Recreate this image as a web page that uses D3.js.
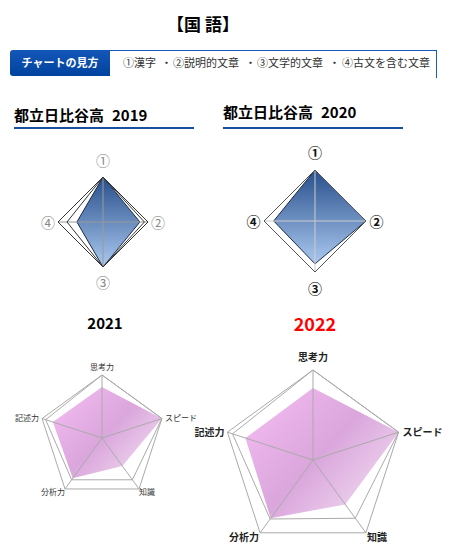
<!DOCTYPE html>
<html>
<head>
<meta charset="utf-8">
<script src="https://cdn.jsdelivr.net/npm/d3@7"></script>
<style>
  body { margin: 0; background: #fff; }
  text { font-family: "Noto Sans CJK JP", "Noto Sans", sans-serif; }
</style>
</head>
<body>
<div id="chart"></div>
<script>
const W = 453, H = 553;

// Data
const legendItems = ["①漢字", "・", "②説明的文章", "・", "③文学的文章", "・", "④古文を含む文章"];
const legendX = [123, 161, 173, 245, 257, 329, 342];
const diamondAxes = ["①", "②", "③", "④"];
const values2019 = [1.0, 0.82, 1.0, 0.58];
const ref2019 = [1.0, 0.92, 1.0, 0.8];
const values2020 = [1.0, 1.0, 0.84, 0.81];
const ref2020 = [1.0, 1.0, 1.0, 1.0];
const pentaAxes = ["思考力", "スピード", "知識", "分析力", "記述力"];
const values2021 = [0.81, 1.0, 0.55, 0.79, 0.82];
const ref2021 = [1.0, 1.0, 0.82, 0.82, 0.94];
const values2022 = [0.80, 1.0, 0.61, 0.80, 0.79];
const ref2022 = [1.0, 1.0, 0.80, 0.81, 0.94];

const svg = d3.select("#chart").append("svg")
  .attr("width", W)
  .attr("height", H);

const defs = svg.append("defs");

const blue = defs.append("linearGradient")
  .attr("id", "blueGrad")
  .attr("x1", 0).attr("y1", 0).attr("x2", 0).attr("y2", 1);
blue.append("stop").attr("offset", 0).attr("stop-color", "#284f8c");
blue.append("stop").attr("offset", 1).attr("stop-color", "#abc9f0");

const pink = defs.append("linearGradient")
  .attr("id", "pinkGrad")
  .attr("x1", 0).attr("y1", 0.1).attr("x2", 1).attr("y2", 0.9);
pink.append("stop").attr("offset", 0).attr("stop-color", "#f4bcf2");
pink.append("stop").attr("offset", 0.5).attr("stop-color", "#daa6dc");
pink.append("stop").attr("offset", 1).attr("stop-color", "#f4e2f4");

const head = defs.append("linearGradient")
  .attr("id", "headGrad")
  .attr("x1", 0).attr("y1", 0).attr("x2", 0).attr("y2", 1);
head.append("stop").attr("offset", 0).attr("stop-color", "#1557b8");
head.append("stop").attr("offset", 1).attr("stop-color", "#00429e");

//Title
svg.append("text")
  .attr("x", 203)
  .attr("y", 31)
  .attr("text-anchor", "middle")
  .style("font-size", "17px")
  .style("font-weight", "bold")
  .text("【国 語】");

//Legend bar
svg.append("line")
  .attr("x1", 100).attr("x2", 437).attr("y1", 50.5).attr("y2", 50.5)
  .attr("stroke", "#1a5bb8");
svg.append("line")
  .attr("x1", 436.5).attr("x2", 436.5).attr("y1", 50).attr("y2", 78)
  .attr("stroke", "#1a5bb8");
svg.append("path")
  .attr("d", "M13,50 H110 V76 H13 Q10,76 10,73 V53 Q10,50 13,50 Z")
  .attr("fill", "url(#headGrad)");
svg.append("text")
  .attr("x", 60).attr("y", 67)
  .attr("text-anchor", "middle")
  .attr("fill", "#fff")
  .style("font-size", "11px")
  .style("font-weight", "bold")
  .text("チャートの見方");
svg.selectAll(".legend")
  .data(legendItems)
  .enter()
  .append("text")
    .attr("x", (d, i) => legendX[i])
    .attr("y", 67)
    .attr("fill", "#333")
    .style("font-size", "11px")
    .text(d => d);

//Section headings
function heading(x, y, school, year) {
  const t = svg.append("text")
    .attr("x", x).attr("y", y)
    .style("font-size", "15px")
    .style("font-weight", "bold");
  t.append("tspan").text(school);
  t.append("tspan").attr("dx", 8).text(year);
  svg.append("line")
    .attr("x1", x).attr("x2", x + 180)
    .attr("y1", 128).attr("y2", 128)
    .attr("stroke", "#1b4f9e")
    .attr("stroke-width", 2);
}
heading(14, 121, "都立日比谷高", "2019");
heading(223, 118, "都立日比谷高", "2020");

svg.append("text")
  .attr("x", 105).attr("y", 329)
  .attr("text-anchor", "middle")
  .style("font-size", "15px")
  .style("font-weight", "bold")
  .text("2021");
svg.append("text")
  .attr("x", 315).attr("y", 331)
  .attr("text-anchor", "middle")
  .attr("fill", "#ff0000")
  .style("font-size", "18px")
  .style("font-weight", "bold")
  .text("2022");

//Radar
function radar(opt) {
  const n = opt.axes.length;
  const r = d3.scaleLinear().domain([0, 1]).range([0, opt.R]);
  const angle = d3.scaleLinear().domain([0, n]).range([0, 2 * Math.PI]);
  const line = d3.lineRadial()
    .angle((d, i) => angle(i))
    .radius(d => r(d))
    .curve(d3.curveLinearClosed);

  const g = svg.append("g")
    .attr("transform", `translate(${opt.cx},${opt.cy})`);

  const pt = (i, v) => [Math.sin(angle(i)) * r(v), -Math.cos(angle(i)) * r(v)];

  // data area
  g.append("path")
    .attr("d", line(opt.values))
    .attr("fill", opt.fill)
    .attr("stroke", opt.dataStroke)
    .attr("stroke-width", 1);

  // axes
  g.selectAll(".axis")
    .data(opt.axes)
    .enter()
    .append("line")
      .attr("x1", 0).attr("y1", 0)
      .attr("x2", (d, i) => pt(i, 1)[0])
      .attr("y2", (d, i) => pt(i, 1)[1])
      .attr("stroke", opt.axisColor)
      .attr("stroke-width", 1);

  // frame and reference
  g.append("path")
    .attr("d", line(opt.axes.map(() => 1)))
    .attr("fill", "none")
    .attr("stroke", opt.frameColor)
    .attr("stroke-width", 1);
  g.append("path")
    .attr("d", line(opt.ref))
    .attr("fill", "none")
    .attr("stroke", opt.frameColor)
    .attr("stroke-width", 1);

  // labels
  g.selectAll(".lbl")
    .data(opt.axes)
    .enter()
    .append("text")
      .attr("x", (d, i) => pt(i, 1)[0] + opt.labelOffset(i)[0])
      .attr("y", (d, i) => pt(i, 1)[1] + opt.labelOffset(i)[1])
      .attr("text-anchor", (d, i) => opt.anchor(i))
      .attr("dominant-baseline", "central")
      .attr("fill", opt.labelColor)
      .style("font-size", opt.labelSize)
      .style("font-weight", opt.labelWeight)
      .text(d => d);
}

const diamondOffset = d => i => [[0, -17], [10, 0], [0, 15], [-10, 0]][i].map(v => v * d);
const diamondAnchor = i => ["middle", "middle", "middle", "middle"][i];

radar({
  cx: 103, cy: 222, R: 45,
  axes: diamondAxes, values: values2019, ref: ref2019,
  fill: "url(#blueGrad)", dataStroke: "#1c2a44",
  axisColor: "#999", frameColor: "#333",
  labelColor: "#888", labelSize: "14px", labelWeight: "normal",
  labelOffset: diamondOffset(1), anchor: diamondAnchor
});

radar({
  cx: 315, cy: 221, R: 51,
  axes: diamondAxes, values: values2020, ref: ref2020,
  fill: "url(#blueGrad)", dataStroke: "#1c2a44",
  axisColor: "#ccc", frameColor: "#555",
  labelColor: "#111", labelSize: "14px", labelWeight: "bold",
  labelOffset: diamondOffset(1.05), anchor: diamondAnchor
});

const pentaAnchor = i => ["middle", "start", "start", "end", "end"][i];

radar({
  cx: 102, cy: 438, R: 63,
  axes: pentaAxes, values: values2021, ref: ref2021,
  fill: "url(#pinkGrad)", dataStroke: "none",
  axisColor: "#aaa", frameColor: "#aaa",
  labelColor: "#333", labelSize: "8px", labelWeight: "normal",
  labelOffset: i => [[0, -9], [3, -1], [0, 3], [0, 3], [-3, -1]][i],
  anchor: pentaAnchor
});

radar({
  cx: 313, cy: 460, R: 90,
  axes: pentaAxes, values: values2022, ref: ref2022,
  fill: "url(#pinkGrad)", dataStroke: "none",
  axisColor: "#aaa", frameColor: "#aaa",
  labelColor: "#222", labelSize: "10px", labelWeight: "bold",
  labelOffset: i => [[0, -14], [4, -1], [1, 4], [-1, 4], [-3, -1]][i],
  anchor: pentaAnchor
});
</script>
</body>
</html>
